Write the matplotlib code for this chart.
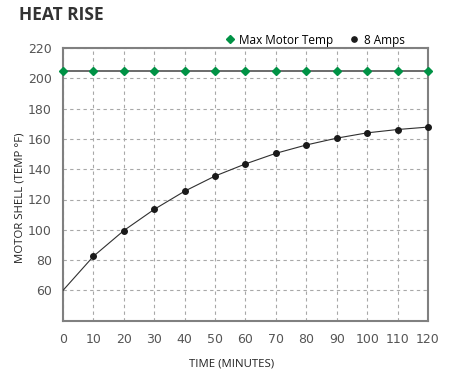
import matplotlib
matplotlib.use("Agg")
import matplotlib.pyplot as plt
from matplotlib.lines import Line2D

# data
minutes = [0, 10, 20, 30, 40, 50, 60, 70, 80, 90, 100, 110, 120]
max_temp = [205] * 13
amps8 = [60, 82.5, 99.5, 113.5, 125.5, 135.5, 143.5, 150.5, 156, 160.5, 164, 166.2, 167.8]
x_ticks = [0, 10, 20, 30, 40, 50, 60, 70, 80, 90, 100, 110, 120]
y_ticks = [60, 80, 100, 120, 140, 160, 180, 200, 220]

green = "#009245"
gray = "#808080"

fig = plt.figure(figsize=(4.49, 3.78), dpi=100)
ax = fig.add_axes([0.1403, 0.1516, 0.8129, 0.7214])

ax.plot(minutes, max_temp, color="#6a6a6a", lw=1.4, zorder=3)
ax.plot(minutes, max_temp, ls="none", marker="D", ms=4.3, color=green, zorder=4, clip_on=False)
ax.plot(minutes, amps8, color="#303030", lw=0.8, zorder=3)
ax.plot(minutes[1:], amps8[1:], ls="none", marker="o", ms=4, color="#1a1a1a", zorder=4, clip_on=False)

ax.set_xlim(0, 120)
ax.set_ylim(40, 220)
ax.set_xticks(x_ticks)
ax.set_yticks(y_ticks)
ax.tick_params(length=0, labelsize=9, labelcolor="#555555", pad=8)
ax.tick_params(axis="x", pad=9)
ax.grid(True, ls=(0, (3, 3)), color="#a8a8a8", lw=0.8)
for s in ax.spines.values():
    s.set_color(gray)
    s.set_linewidth(1.5)

fig.text(232 / 449, 1 - 364 / 378, "TIME (MINUTES)", fontsize=8.2, family="Open Sans",
         color="#222222", ha="center", va="center")
fig.text(20 / 449, 1 - 198 / 378, "MOTOR SHELL (TEMP °F)", fontsize=8.2, family="Open Sans",
         color="#222222", ha="center", va="center", rotation=90)

fig.text(0.042, 0.96, "HEAT RISE", fontsize=12.5, fontweight="bold", family="Open Sans",
         color="#333333", va="center", ha="left")

handles = [Line2D([], [], ls="none", marker="D", ms=4.3, color=green),
           Line2D([], [], ls="none", marker="o", ms=3.8, color="#1a1a1a")]
leg = fig.legend(handles, ["Max Motor Temp", "8 Amps"], loc="center right",
                 bbox_to_anchor=(0.925, 0.894), ncol=2, frameon=False, handlelength=0.8,
                 handletextpad=0.4, columnspacing=1.4, prop={"family": "Open Sans", "size": 8.5})

fig.savefig("out.png", dpi=100)
